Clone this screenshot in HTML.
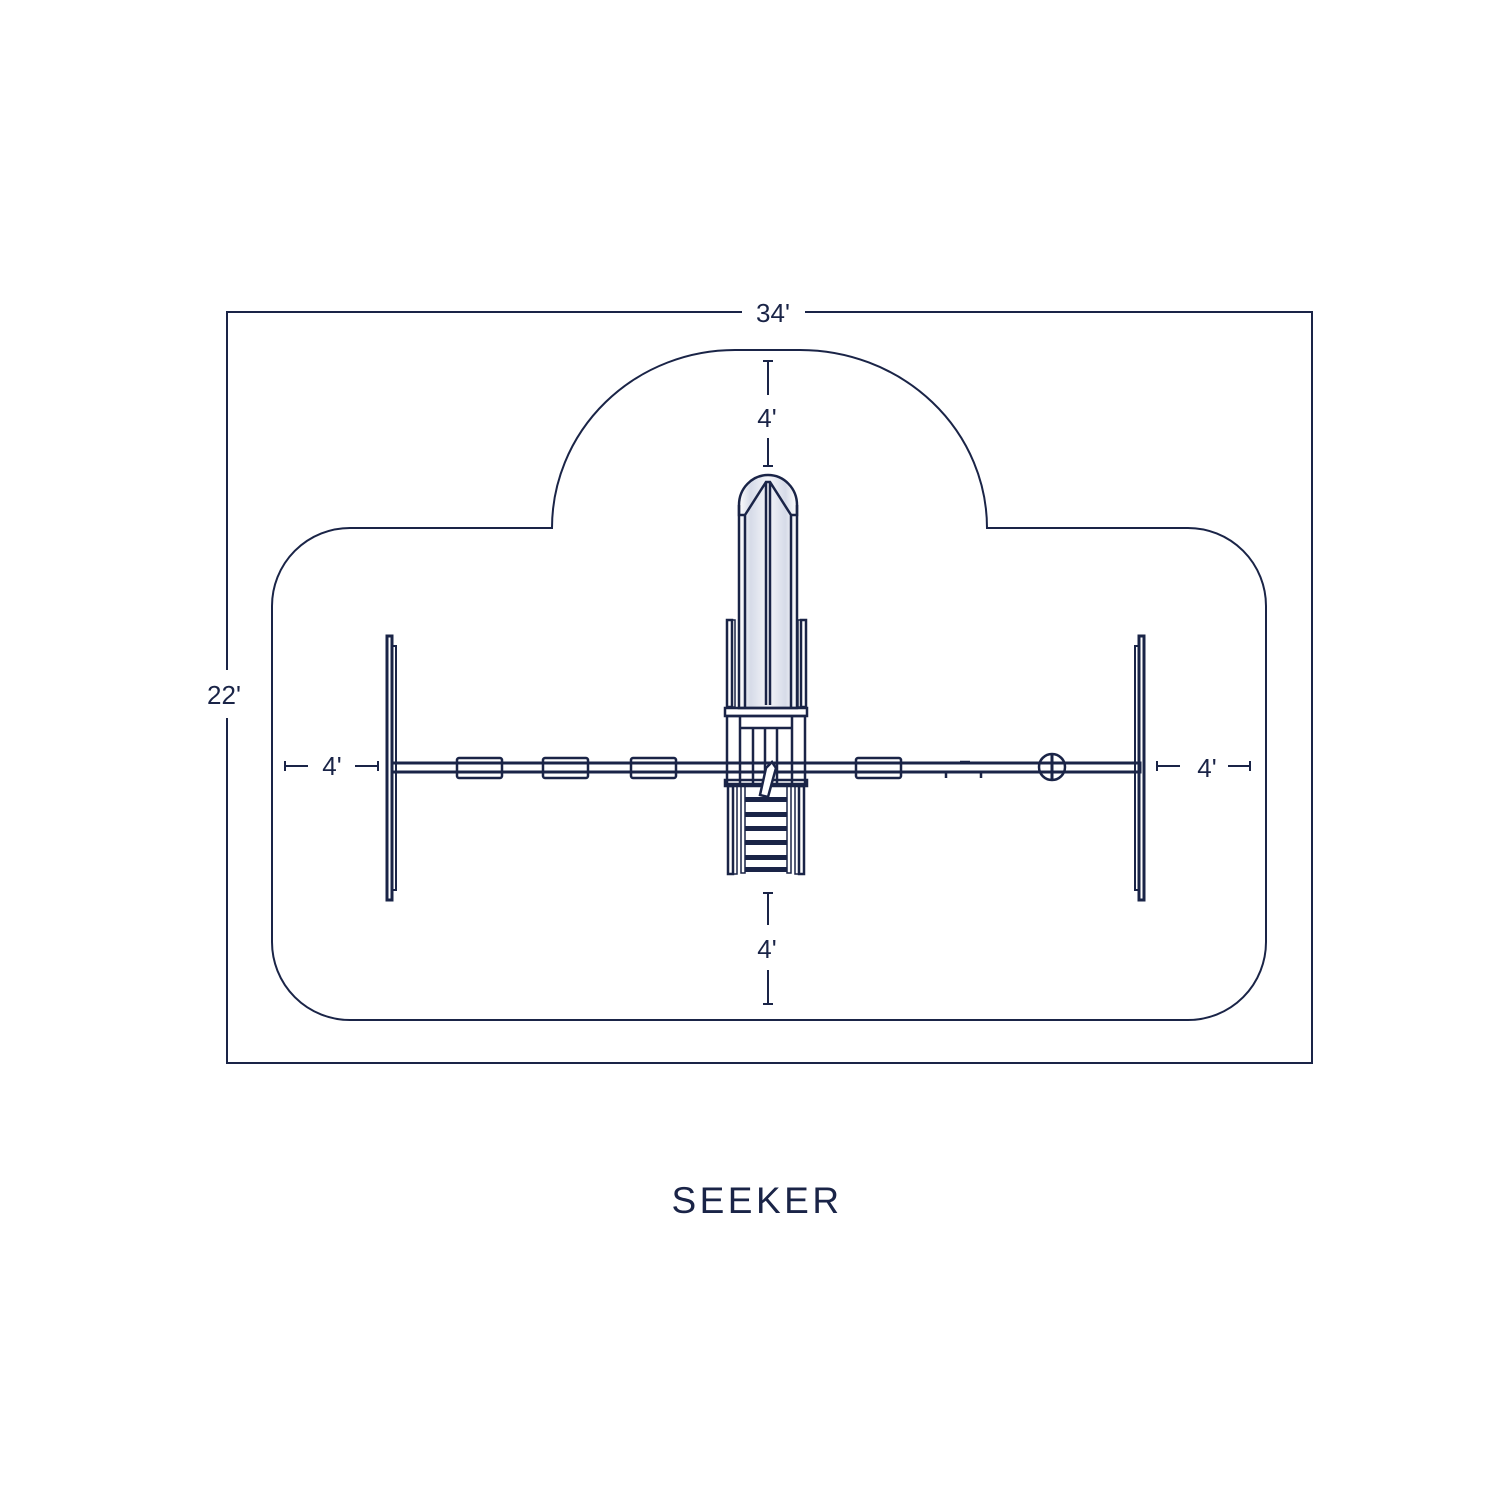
<!DOCTYPE html>
<html><head><meta charset="utf-8"><style>
html,body{margin:0;padding:0;background:#fff;}
svg{display:block;}
text{font-family:"Liberation Sans",sans-serif;fill:#1a2447;}
</style></head><body>
<svg width="1508" height="1508" viewBox="0 0 1508 1508" xmlns="http://www.w3.org/2000/svg">
<defs>
<linearGradient id="sg" x1="0" x2="1">
<stop offset="0" stop-color="#fff"/><stop offset="0.2" stop-color="#d6dbe8"/><stop offset="0.5" stop-color="#f4f5f9"/><stop offset="0.8" stop-color="#d6dbe8"/><stop offset="1" stop-color="#fff"/>
</linearGradient>
</defs>
<g fill="none" stroke="#1a2447" stroke-width="2">
<path d="M742 312 H227 V670 M227 718 V1063 H1312 V312 H805"/>
<path d="M350 528 H552 A183 178 0 0 1 735 350 H800 A187 178 0 0 1 987 528 H1188 A78 78 0 0 1 1266 606 V942 A78 78 0 0 1 1188 1020 H350 A78 78 0 0 1 272 942 V606 A78 78 0 0 1 350 528 Z"/>
<path d="M763 361 H773 M768 361 V395 M768 438 V466 M763 466 H773"/>
<path d="M763 893 H773 M768 893 V925 M768 970 V1004 M763 1004 H773"/>
<path d="M285 761 V771 M285 766 H308 M355 766 H378 M378 761 V771"/>
<path d="M1157 761 V771 M1157 766 H1180 M1228 766 H1250 M1250 761 V771"/>
</g>
<g fill="none" stroke="#1a2447" stroke-width="3">
<rect x="392" y="763" width="748" height="9"/>
<rect x="387" y="636" width="5" height="264"/>
<rect x="392" y="646" width="4" height="244" stroke-width="2"/>
<rect x="1139" y="636" width="5" height="264"/>
<rect x="1135" y="646" width="4" height="244" stroke-width="2"/>
<rect x="457" y="758" width="45" height="20" rx="2" stroke-width="2.5"/>
<rect x="543" y="758" width="45" height="20" rx="2" stroke-width="2.5"/>
<rect x="631" y="758" width="45" height="20" rx="2" stroke-width="2.5"/>
<rect x="856" y="758" width="45" height="20" rx="2" stroke-width="2.5"/>
<path d="M946 772 V778 M981 772 V778 M960 762 H970" stroke-width="2.5"/>
<circle cx="1052" cy="767" r="13" stroke-width="2.5"/>
<path d="M1052 754 V780"/>
</g>
<g stroke="#1a2447" stroke-width="2.5">
<path d="M739 505 A29 30 0 0 1 797 505 V708 H739 Z" fill="url(#sg)"/>
<path d="M745 515 L766 482 L770 482 L791 515 V708 M745 515 V708 M766 482 V705 M770 482 V705" fill="none"/>
<path d="M739 505 V515 H745 M797 505 V515 H791" fill="none"/>
<g fill="none">
<rect x="727" y="620" width="5" height="87"/>
<rect x="732" y="620" width="3" height="87" stroke-width="1.5"/>
<rect x="801" y="620" width="5" height="87"/>
<rect x="798" y="620" width="3" height="87" stroke-width="1.5"/>
<rect x="725" y="708" width="82" height="8"/>
<rect x="727" y="716" width="78" height="68"/>
<path d="M740 716 V784 M792 716 V784 M753 728 V784 M765 728 V784 M777 728 V784 M740 728 H792"/>
<rect x="725" y="780" width="82" height="6"/>
<rect x="728" y="786" width="5" height="88"/>
<rect x="733" y="786" width="4" height="88" stroke-width="1.5"/>
<rect x="799" y="786" width="5" height="88"/>
<rect x="795" y="786" width="4" height="88" stroke-width="1.5"/>
<rect x="741" y="786" width="4" height="87" stroke-width="1.5"/>
<rect x="787" y="786" width="4" height="87" stroke-width="1.5"/>
</g>
<path d="M766 768 L772 762 L776 768 L768 797 L760 795 Z" fill="#fff"/>
</g>
<g fill="#1a2447">
<rect x="745" y="797" width="42" height="5"/>
<rect x="745" y="812" width="42" height="5"/>
<rect x="745" y="826" width="42" height="5"/>
<rect x="745" y="840" width="42" height="5"/>
<rect x="745" y="855" width="42" height="5"/>
<rect x="745" y="867" width="42" height="5"/>
</g>
<text x="773" y="322" font-size="26" text-anchor="middle">34'</text>
<text x="224" y="704" font-size="26" text-anchor="middle">22'</text>
<text x="767" y="427" font-size="26" text-anchor="middle">4'</text>
<text x="767" y="958" font-size="26" text-anchor="middle">4'</text>
<text x="332" y="775" font-size="26" text-anchor="middle">4'</text>
<text x="1207" y="777" font-size="26" text-anchor="middle">4'</text>
<text x="757" y="1213" font-size="37" text-anchor="middle" letter-spacing="3.5">SEEKER</text>
</svg>
</body></html>
